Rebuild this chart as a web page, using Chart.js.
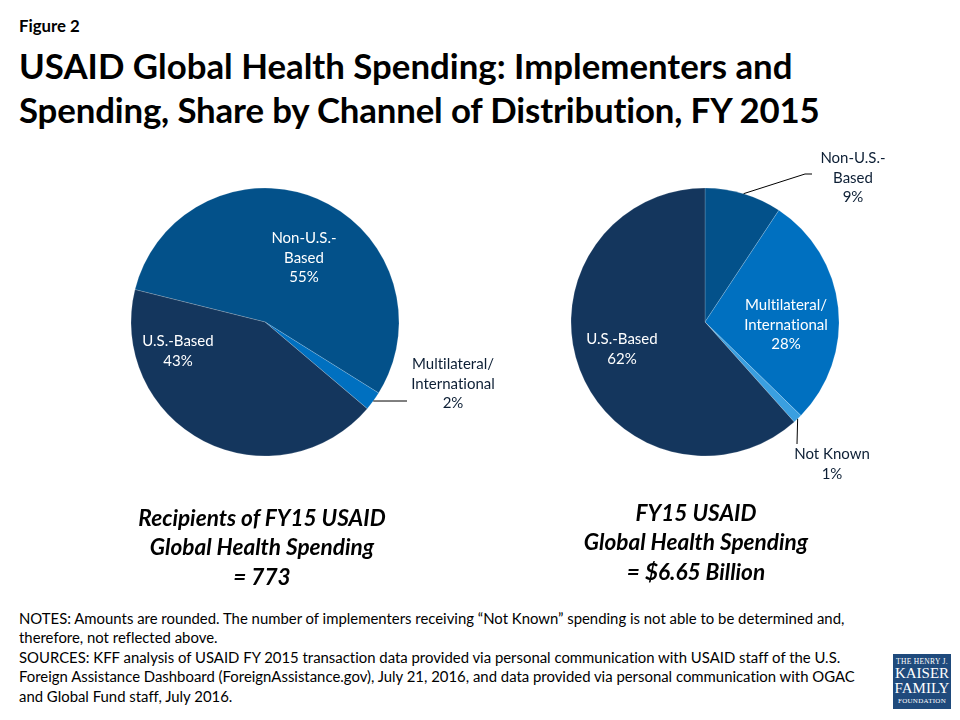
<!DOCTYPE html>
<html>
<head>
<meta charset="utf-8">
<script src="https://cdn.jsdelivr.net/npm/chart.js@4"></script>
<style>
body { margin: 0; background: #fff; width: 960px; height: 720px; overflow: hidden; position: relative; font-family: Lato, sans-serif; color: #000; font-variant-ligatures: none; }
div { position: absolute; }
canvas { position: absolute; }
#fig { left: 19px; top: 15px; font-size: 16.8px; font-weight: bold; }
#title { left: 19px; top: 44px; font-size: 34.8px; line-height: 44px; font-weight: bold; white-space: nowrap; }
#title span { letter-spacing: -0.15px; }
.lbl { font-size: 15px; line-height: 19.6px; text-align: center; white-space: nowrap; transform: translateX(-50%); color: #0d1f35; }
.white { color: #fff; }
.cap { font-size: 22.6px; line-height: 29.3px; font-weight: bold; font-style: italic; text-align: center; white-space: nowrap; transform: translateX(-50%); }
#notes { left: 19px; top: 609px; font-size: 14.9px; line-height: 19.4px; white-space: nowrap; }
#logo { left: 893px; top: 654px; width: 58px; height: 55px; background: #1f4a7c; color: #fff; font-family: "Liberation Serif", serif; text-align: center; }
#logo div { left: 0; width: 58px; white-space: nowrap; }
</style>
</head>
<body>
<div id="fig">Figure 2</div>
<div id="title">USAID Global Health Spending: Implementers and<br><span>Spending, Share by Channel of Distribution, FY 2015</span></div>

<canvas id="pieLeft" style="left:45px;top:140px;width:440px;height:364px"></canvas>
<canvas id="pieRight" style="left:485px;top:140px;width:440px;height:364px"></canvas>

<div class="lbl white" style="left:304px;top:228px">Non-U.S.-<br>Based<br>55%</div>
<div class="lbl white" style="left:178px;top:331px">U.S.-Based<br>43%</div>
<div class="lbl" style="left:453px;top:354px">Multilateral/<br>International<br>2%</div>
<div class="lbl" style="left:853px;top:148px">Non-U.S.-<br>Based<br>9%</div>
<div class="lbl white" style="left:786px;top:295px">Multilateral/<br>International<br>28%</div>
<div class="lbl white" style="left:622px;top:329px">U.S.-Based<br>62%</div>
<div class="lbl" style="left:832px;top:444px">Not Known<br>1%</div>

<div class="cap" style="left:262px;top:503px">Recipients of FY15 USAID<br>Global Health Spending<br>= 773</div>
<div class="cap" style="left:696px;top:498px">FY15 USAID<br>Global Health Spending<br>= $6.65 Billion</div>

<div id="notes">NOTES: Amounts are rounded. The number of implementers receiving “Not Known” spending is not able to be determined and,<br>therefore, not reflected above.<br>SOURCES: KFF analysis of USAID FY 2015 transaction data provided via personal communication with USAID staff of the U.S.<br>Foreign Assistance Dashboard (ForeignAssistance.gov), July 21, 2016, and data provided via personal communication with OGAC<br>and Global Fund staff, July 2016.</div>

<div id="logo">
  <div style="top:3px;font-size:7.5px;letter-spacing:.3px">THE HENRY J.</div>
  <div style="top:11px;font-size:15px">KAISER</div>
  <div style="top:26px;font-size:15px">FAMILY</div>
  <div style="top:43px;font-size:7px;letter-spacing:.3px">FOUNDATION</div>
</div>

<script>
// left pie, recipients (slices, labels are rounded)
const leftCategories = ["Non-U.S.-Based", "Multilateral/International", "U.S.-Based"];
const leftValues = [55, 2.3, 42.7];
const leftColors = ["#03518a", "#0070c0", "#14365d"];

// right pie, spending
const rightCategories = ["Non-U.S.-Based", "Multilateral/International", "Not Known", "U.S.-Based"];
const rightValues = [9.3, 28, 1.1, 61.6];
const rightColors = ["#03518a", "#0070c0", "#3a9fe0", "#14365d"];

const pieRadius = 134;

// draws the thin line from a slice edge out to its label
const leaderLines = {
    id: "leaderLines",
    afterDraw(chart, args, opts) {
        const ctx = chart.ctx;
        const arcs = chart.getDatasetMeta(0).data;
        opts.lines.forEach((line) => {
            const arc = arcs[line.slice];
            const mid = (arc.startAngle + arc.endAngle) / 2;
            ctx.beginPath();
            ctx.moveTo(arc.x + Math.cos(mid) * pieRadius, arc.y + Math.sin(mid) * pieRadius);
            line.path.forEach((p) => ctx.lineTo(arc.x + p[0], arc.y + p[1]));
            ctx.strokeStyle = "#000";
            ctx.lineWidth = 1;
            ctx.stroke();
        });
    }
};

function makePie(id, labels, values, colors, rotation, lines) {
    return new Chart(id, {
        type: "pie",
        data: {
            labels: labels,
            datasets: [{
                data: values,
                backgroundColor: colors,
                borderColor: "rgba(255,255,255,0.35)",
                borderWidth: 0.5
            }]
        },
        options: {
            responsive: false,
            animation: false,
            rotation: rotation,
            radius: pieRadius,
            plugins: {
                legend: { display: false },
                tooltip: { enabled: false },
                leaderLines: { lines: lines }
            }
        },
        plugins: [leaderLines]
    });
}

makePie("pieLeft", leftCategories, leftValues, leftColors, -76, [
    { slice: 1, path: [[142, 79]] }
]);
makePie("pieRight", rightCategories, rightValues, rightColors, 0, [
    { slice: 0, path: [[100, -148], [107, -148]] },
    { slice: 2, path: [[92, 122]] }
]);
</script>
</body>
</html>
